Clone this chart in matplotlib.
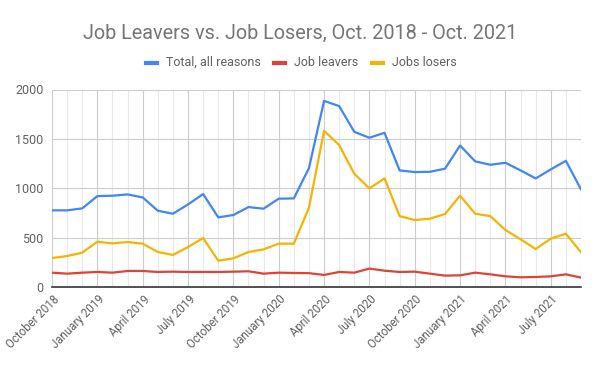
import matplotlib
matplotlib.use("Agg")
import matplotlib.pyplot as plt
from matplotlib.lines import Line2D
from matplotlib.transforms import ScaledTranslation

months = ["Oct 2018", "Nov 2018", "Dec 2018", "Jan 2019", "Feb 2019", "Mar 2019",
          "Apr 2019", "May 2019", "Jun 2019", "Jul 2019", "Aug 2019", "Sep 2019",
          "Oct 2019", "Nov 2019", "Dec 2019", "Jan 2020", "Feb 2020", "Mar 2020",
          "Apr 2020", "May 2020", "Jun 2020", "Jul 2020", "Aug 2020", "Sep 2020",
          "Oct 2020", "Nov 2020", "Dec 2020", "Jan 2021", "Feb 2021", "Mar 2021",
          "Apr 2021", "May 2021", "Jun 2021", "Jul 2021", "Aug 2021", "Sep 2021"]

total = [778, 778, 798, 922, 926, 939, 909, 774, 744, 838, 943, 707,
         731, 811, 795, 896, 899, 1205, 1885, 1832, 1572, 1512, 1562, 1182,
         1165, 1168, 1199, 1434, 1273, 1239, 1259, 1182, 1101, 1192, 1279, 990]
leavers = [148, 138, 148, 155, 148, 165, 165, 155, 158, 155, 155, 155,
           158, 162, 138, 148, 145, 143, 125, 155, 148, 189, 168, 155,
           158, 138, 118, 121, 148, 131, 111, 101, 104, 111, 131, 98]
losers = [296, 316, 350, 461, 444, 458, 441, 357, 327, 407, 498, 269,
          293, 357, 384, 441, 441, 805, 1582, 1438, 1148, 1000, 1101, 720,
          680, 694, 741, 926, 744, 720, 579, 485, 387, 492, 542, 354]

tick_labels = ["October 2018", "January 2019", "April 2019", "July 2019",
               "October 2019", "January 2020", "April 2020", "July 2020",
               "October 2020", "January 2021", "April 2021", "July 2021"]
series_names = ["Total, all reasons", "Job leavers", "Jobs losers"]
colors = ["#4285F4", "#DB4437", "#F4B400"]
yticks = [0, 500, 1000, 1500, 2000]

plt.rcParams['font.family'] = ['Roboto', 'DejaVu Sans']

fig = plt.figure(figsize=(6, 3.71), dpi=100)
W, H = 600, 371
L, R, T, B = 52, 581, 89.5, 287.3
ax = fig.add_axes([L / W, 1 - B / H, (R - L) / W, (B - T) / H])

x = list(range(len(months)))
for vals, c, name in zip([total, leavers, losers], colors, series_names):
    ax.plot(x, vals, color=c, lw=1.6, label=name, zorder=3, solid_joinstyle='round')

ax.set_xlim(0, len(months) - 1)
ax.set_ylim(0, 2000)
ax.set_yticks(yticks)
ax.set_yticklabels([str(v) for v in yticks], color="#616161", fontsize=9)
major = list(range(0, len(months), 3))
ax.set_xticks(major)
ax.set_xticklabels(tick_labels, rotation=45, ha="right", va="center",
                   rotation_mode="anchor", color="#616161", fontsize=8.3)
ax.set_xticks([i for i in x if i % 3 != 0], minor=True)
ax.tick_params(axis="x", which="both", length=0, pad=7.2)
ax.tick_params(axis="y", which="both", length=0, pad=6)
offset = ScaledTranslation(5 / 100, 0, fig.dpi_scale_trans)
for lab in ax.get_xticklabels():
    lab.set_transform(lab.get_transform() + offset)
ax.grid(True, which="major", color="#cccccc", lw=0.8, zorder=0)
ax.grid(True, which="minor", axis="x", color="#e8e8e8", lw=0.8, zorder=0)
for s in ["top", "right", "left"]:
    ax.spines[s].set_visible(False)
ax.spines["bottom"].set_color("#333333")
ax.spines["bottom"].set_linewidth(1.2)
ax.spines["bottom"].set_zorder(4)

fig.text(0.5, 1 - 33 / H, "Job Leavers vs. Job Losers, Oct. 2018 - Oct. 2021",
         ha="center", va="center", fontsize=14.3, color="#757575")

# legend
ly = 1 - 62.5 / H
items = [(146, 166), (274, 294), (372, 392)]
for (lx, tx), c, name in zip(items, colors, series_names):
    fig.add_artist(Line2D([lx / W, (lx + 11) / W], [ly, ly], color=c, lw=3,
                          transform=fig.transFigure))
    fig.text(tx / W, ly, name, ha="left", va="center", fontsize=9, color="#5f5f5f")

fig.savefig("out.png", dpi=100)
